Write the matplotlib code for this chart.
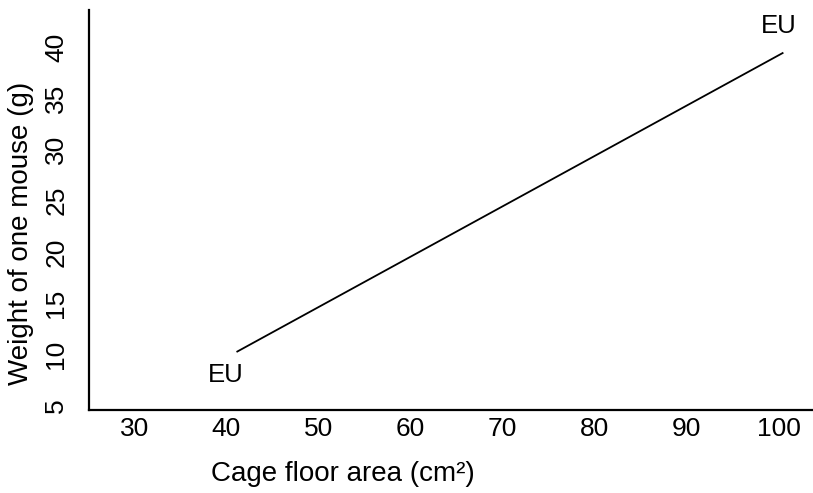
import matplotlib
matplotlib.use("Agg")
import matplotlib.pyplot as plt

plt.rcParams['font.family'] = ['Liberation Sans', 'DejaVu Sans']

# EU guideline: cage floor area vs weight of one mouse
area = [41.2, 100.4]
weight = [10.3, 39.4]

# label positions for the two "EU" tags
lab_x = [40, 100]
lab_y = [8.0, 42.0]
lab_txt = ["EU", "EU"]

xticks = [30, 40, 50, 60, 70, 80, 90, 100]
yticks = [5, 10, 15, 20, 25, 30, 35, 40]

fig = plt.figure(figsize=(8.13, 4.93), dpi=100)
ax = fig.add_axes([89 / 813, 1 - 410 / 493, 1 - 89 / 813, 400 / 493])

ax.plot(area, weight, color="black", lw=1.3)
for x, y, t in zip(lab_x, lab_y, lab_txt):
    ax.text(x, y, t, fontsize=18.5, ha="center", va="center")

ax.set_xlim(25.1, 103.7)
ax.set_ylim(4.6, 43.6)
ax.set_xticks(xticks)
ax.set_yticks(yticks)
ax.tick_params(axis="both", length=0, labelsize=19)
ax.tick_params(axis="x", pad=5)
ax.tick_params(axis="y", pad=15)
plt.setp(ax.get_yticklabels(), rotation=90, va="center")

ax.spines["top"].set_visible(False)
ax.spines["right"].set_visible(False)
ax.spines["left"].set_linewidth(1.6)
ax.spines["bottom"].set_linewidth(1.6)

ax.set_xlabel("Cage floor area (cm²)", fontsize=20)
ax.set_ylabel("Weight of one mouse (g)", fontsize=20)
ax.xaxis.set_label_coords((343 - 89) / 724, -(474 - 410) / 400)
ax.yaxis.set_label_coords(-(89 - 21) / 724, (410 - 233) / 400)
ax.xaxis.label.set_va("center")
ax.yaxis.label.set_va("center")

fig.savefig("out.png", dpi=100)
